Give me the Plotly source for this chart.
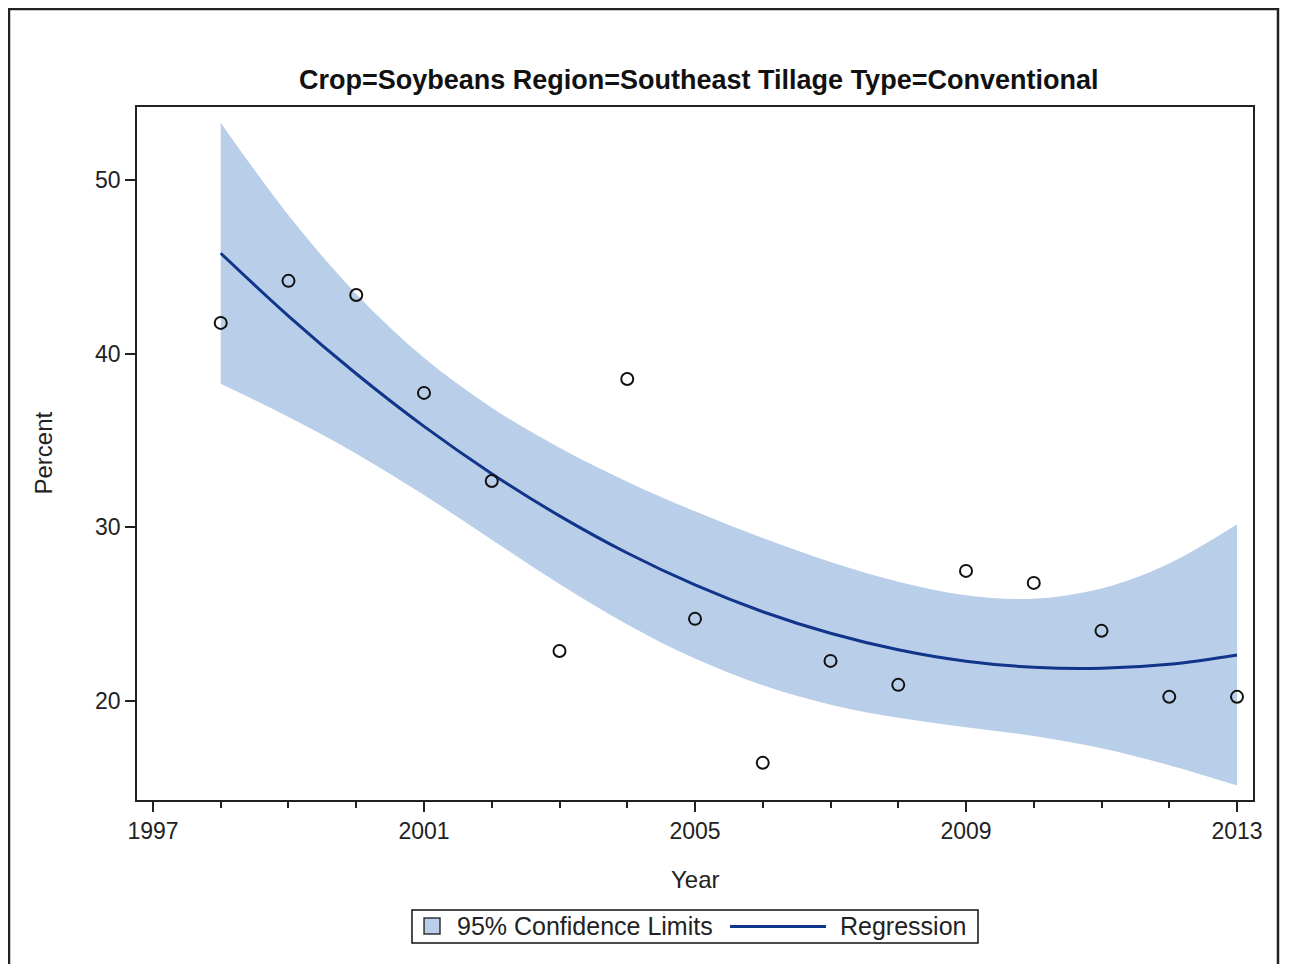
import plotly.graph_objects as go

years = list(range(1998, 2014))
percent = [41.77, 44.19, 43.38, 37.74, 32.67, 22.88, 38.54, 24.73,
           16.44, 22.31, 20.93, 27.49, 26.80, 24.04, 20.24, 20.24]
regression = [45.78, 42.16, 38.84, 35.81, 33.09, 30.66, 28.52, 26.68,
              25.14, 23.90, 22.95, 22.29, 21.94, 21.88, 22.11, 22.65]
upper_cl = [53.30, 47.97, 43.44, 39.76, 36.89, 34.58, 32.63, 30.92,
            29.38, 28.01, 26.87, 26.09, 25.89, 26.48, 27.92, 30.17]
lower_cl = [38.26, 36.35, 34.24, 31.86, 29.29, 26.74, 24.41, 22.44,
            20.90, 19.79, 19.03, 18.49, 17.99, 17.28, 16.30, 15.13]
x_ticks = [1997, 2001, 2005, 2009, 2013]
y_ticks = [20, 30, 40, 50]
legend_labels = ["95% Confidence Limits", "Regression"]

BAND = "#B9CEE8"
LINE = "#10358A"
FONT = "Liberation Sans, Arial, sans-serif"
TXT = "#222"

fig = go.Figure()
fig.add_trace(go.Scatter(x=years, y=lower_cl, mode="lines", line=dict(width=0, shape="spline"),
                         showlegend=False, hoverinfo="skip"))
fig.add_trace(go.Scatter(x=years, y=upper_cl, mode="lines", line=dict(width=0, shape="spline"),
                         fill="tonexty", fillcolor=BAND, showlegend=False,
                         name=legend_labels[0]))
fig.add_trace(go.Scatter(x=years, y=regression, mode="lines", showlegend=False,
                         line=dict(color=LINE, width=3, shape="spline"), name=legend_labels[1]))
fig.add_trace(go.Scatter(x=years, y=percent, mode="markers", showlegend=False,
                         marker=dict(symbol="circle-open", size=12, color="#111",
                                     line=dict(width=2, color="#111"))))

# legend drawn as a box with swatches below the plot (paper coordinates)
legend_shapes = [
    dict(type="rect", xref="paper", yref="paper", x0=0.2464, x1=0.7536, y0=-0.2063, y1=-0.1587,
         line=dict(color="#111", width=1.5), fillcolor="white"),
    dict(type="rect", xref="paper", yref="paper", x0=0.2572, x1=0.2715, y0=-0.1934, y1=-0.1703,
         line=dict(color="#333", width=1.5), fillcolor=BAND),
    dict(type="line", xref="paper", yref="paper", x0=0.5314, x1=0.6174, y0=-0.1826, y1=-0.1826,
         line=dict(color=LINE, width=3)),
]
legend_annots = [
    dict(text=legend_labels[0], xref="paper", yref="paper", x=0.2849, y=-0.1818,
         xanchor="left", yanchor="middle", showarrow=False, font=dict(size=25, color=TXT)),
    dict(text=legend_labels[1], xref="paper", yref="paper", x=0.6281, y=-0.1818,
         xanchor="left", yanchor="middle", showarrow=False, font=dict(size=25, color=TXT)),
]

fig.update_layout(
    width=1281, height=956,
    margin=dict(l=129, r=36, t=99, b=164),
    paper_bgcolor="white", plot_bgcolor="white",
    font=dict(family=FONT, size=23, color=TXT),
    showlegend=False,
    xaxis=dict(range=[1996.764, 2013.236], tickvals=x_ticks, ticks="outside", ticklen=10,
               tickwidth=1.5, tickcolor=TXT, showline=True, linecolor=TXT, linewidth=1.5,
               mirror=True, showgrid=False, zeroline=False,
               minor=dict(dtick=1, tick0=1997, ticks="outside", ticklen=6, tickwidth=1.5,
                          tickcolor=TXT, showgrid=False),
               tickfont=dict(size=23, color=TXT)),
    yaxis=dict(range=[14.3, 54.2], tickvals=y_ticks, ticks="outside", ticklen=10,
               tickwidth=1.5, tickcolor=TXT, showline=True, linecolor=TXT, linewidth=1.5,
               mirror=True, showgrid=False, zeroline=False,
               tickfont=dict(size=23, color=TXT)),
    annotations=[
        dict(text="<b>Crop=Soybeans Region=Southeast Tillage Type=Conventional</b>",
             xref="paper", yref="paper", x=0.503, y=1.039, xanchor="center", yanchor="middle",
             showarrow=False,
             font=dict(family="Liberation Sans Narrow, Arial Narrow, Liberation Sans", size=27,
                       color="#111")),
        dict(text="Year", xref="paper", yref="paper", x=0.5, y=-0.1154, xanchor="center",
             yanchor="middle", showarrow=False, font=dict(size=24, color=TXT)),
        dict(text="Percent", xref="paper", yref="paper", x=-0.0842, y=0.5, xanchor="center",
             yanchor="middle", textangle=-90, showarrow=False, font=dict(size=24, color=TXT)),
    ] + legend_annots,
    shapes=[dict(type="rect", xref="paper", yref="paper", x0=-0.1147, x1=1.0224,
                 y0=-0.26, y1=1.1414, line=dict(color="#222", width=2.5), layer="below")]
           + legend_shapes,
)

fig.write_html("out.html")
